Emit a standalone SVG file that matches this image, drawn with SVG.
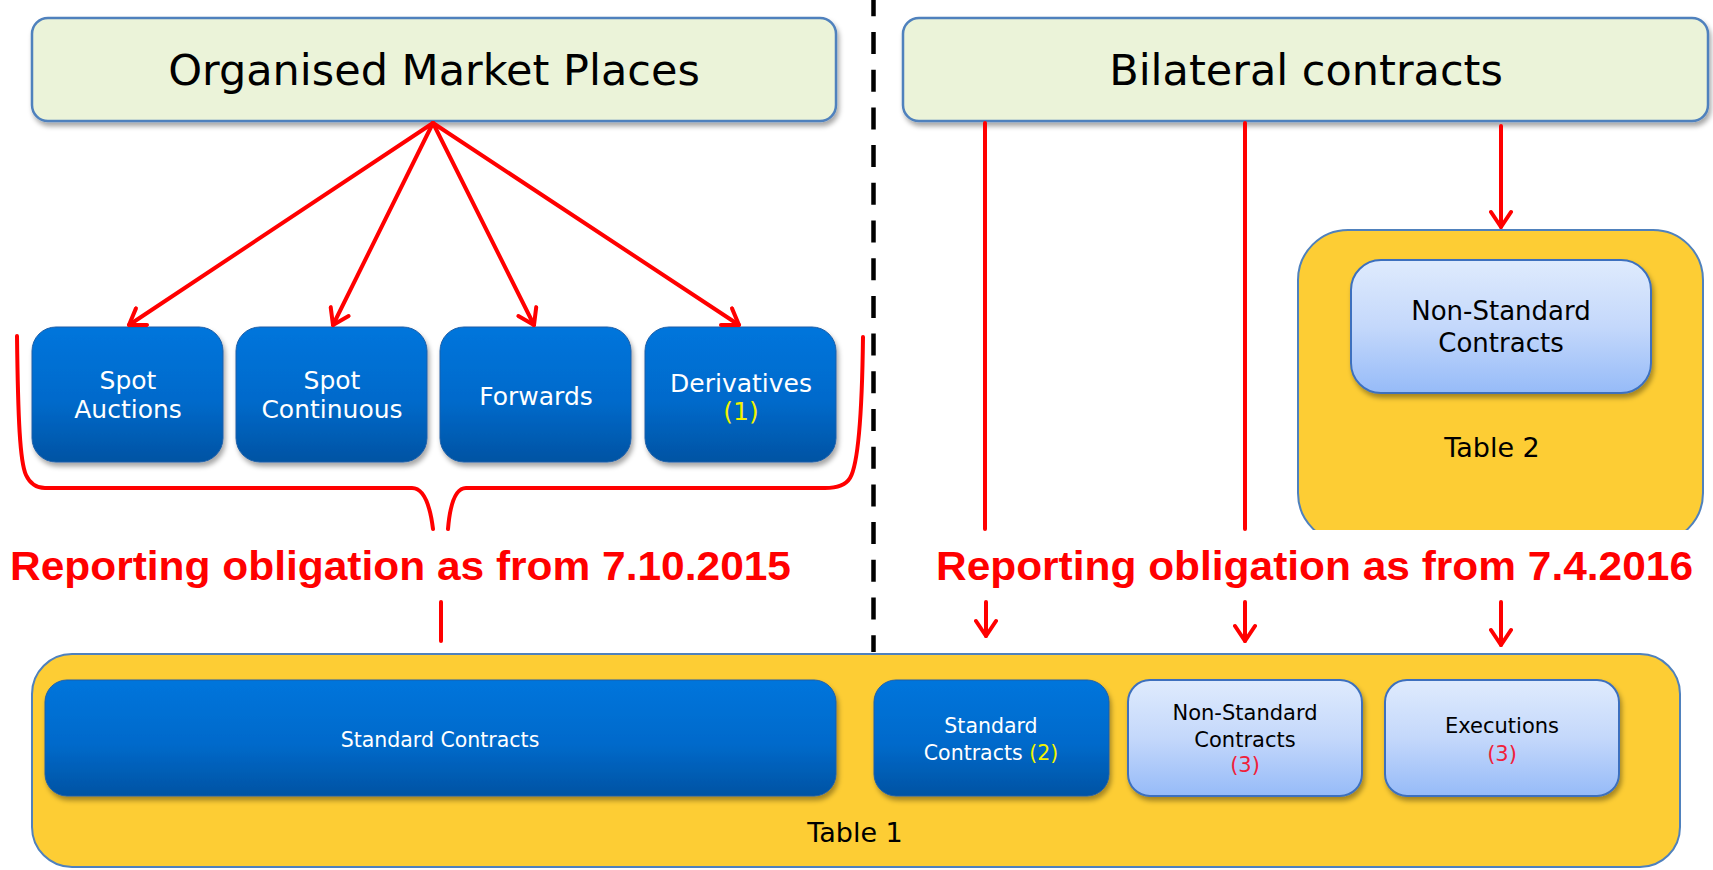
<svg xmlns="http://www.w3.org/2000/svg" width="1713" height="870" viewBox="0 0 1713 870">
  <style>
    .hdr { fill: #EBF3D9; stroke: #4F81BD; stroke-width: 2.5; }
    .tbl { fill: #FDCD34; stroke: #4F81BD; stroke-width: 2; }
    .blue { fill: url(#gBlue); stroke: #1F5FA8; stroke-width: 1; }
    .lblue { fill: url(#gLight); stroke: #3C70BE; stroke-width: 2; }
    .t { font-family: "DejaVu Sans", Verdana, sans-serif; text-anchor: middle; }
    .hdrT { font-size: 43px; fill: #000; }
    .wT { font-size: 25px; fill: #FFFFFF; }
    .wS { font-size: 20.5px; fill: #FFFFFF; }
    .kS { font-size: 21px; fill: #000; }
    .kM { font-size: 26px; fill: #000; }
    .tblT { font-size: 27px; fill: #000; }
    .yel { fill: #F2F200; }
    .redn { fill: #F0203A; }
    .rep { font-family: "Liberation Sans", Arial, sans-serif; font-weight: bold; font-size: 40px; fill: #FF0000; }
    .conn { fill: none; stroke: #FF0000; stroke-width: 4; stroke-linecap: round; }
    .arr { marker-end: url(#ah); }
  </style>
  <defs>
    <linearGradient id="gBlue" x1="0" y1="0" x2="0" y2="1">
      <stop offset="0" stop-color="#0075DC"/>
      <stop offset="0.55" stop-color="#006ACB"/>
      <stop offset="1" stop-color="#0053A3"/>
    </linearGradient>
    <linearGradient id="gLight" x1="0" y1="0" x2="0" y2="1">
      <stop offset="0" stop-color="#DFEBFD"/>
      <stop offset="0.5" stop-color="#C4D8FB"/>
      <stop offset="1" stop-color="#96BBF8"/>
    </linearGradient>
    <filter id="sh" x="-5%" y="-10%" width="112%" height="135%">
      <feDropShadow dx="2" dy="4" stdDeviation="2.5" flood-color="#000" flood-opacity="0.35"/>
    </filter>
    <marker id="ah" viewBox="-20 -12 24 24" refX="0" refY="0" markerWidth="24" markerHeight="24" markerUnits="userSpaceOnUse" orient="auto">
      <path d="M-15,-10 L0,0 L-15,10" fill="none" stroke="#FF0000" stroke-width="4" stroke-linecap="round" stroke-linejoin="round"/>
    </marker>
    <clipPath id="cutT2">
      <rect x="1280" y="200" width="433" height="330"/>
    </clipPath>
  </defs>

  <!-- Headers -->
  <g id="omp">
    <rect class="hdr" x="32" y="18" width="804" height="103" rx="16" filter="url(#sh)"/>
    <text class="t hdrT" x="434" y="85">Organised Market Places</text>
  </g>
  <g id="bilateral">
    <rect class="hdr" x="903" y="18" width="805" height="103" rx="16" filter="url(#sh)"/>
    <text class="t hdrT" x="1306" y="85">Bilateral contracts</text>
  </g>

  <!-- Market place products -->
  <g id="spot-auctions">
    <rect class="blue" x="32" y="327" width="191" height="135" rx="24" filter="url(#sh)"/>
    <text class="t wT" x="128" y="389">Spot</text>
    <text class="t wT" x="128" y="418">Auctions</text>
  </g>
  <g id="spot-continuous">
    <rect class="blue" x="236" y="327" width="191" height="135" rx="24" filter="url(#sh)"/>
    <text class="t wT" x="332" y="389">Spot</text>
    <text class="t wT" x="332" y="418">Continuous</text>
  </g>
  <g id="forwards">
    <rect class="blue" x="440" y="327" width="191" height="135" rx="24" filter="url(#sh)"/>
    <text class="t wT" x="536" y="405">Forwards</text>
  </g>
  <g id="derivatives">
    <rect class="blue" x="645" y="327" width="191" height="135" rx="24" filter="url(#sh)"/>
    <text class="t wT" x="741" y="392">Derivatives</text>
    <text class="t wT yel" x="741" y="420">(1)</text>
  </g>

  <!-- Table 2 -->
  <g id="table2">
    <rect class="tbl" x="1298" y="230" width="405" height="313" rx="50" clip-path="url(#cutT2)"/>
    <rect class="lblue" x="1351" y="260" width="300" height="133" rx="30" filter="url(#sh)"/>
    <text class="t kM" x="1501" y="320">Non-Standard</text>
    <text class="t kM" x="1501" y="352">Contracts</text>
    <text class="t tblT" x="1492" y="457">Table 2</text>
  </g>

  <!-- Table 1 -->
  <g id="table1">
    <rect class="tbl" x="32" y="654" width="1648" height="213" rx="40"/>
    <text class="t tblT" x="855" y="842">Table 1</text>
  </g>
  <g id="std-contracts-omp">
    <rect class="blue" x="45" y="680" width="791" height="116" rx="22" filter="url(#sh)"/>
    <text class="t wS" x="440" y="747">Standard Contracts</text>
  </g>
  <g id="std-contracts-bil">
    <rect class="blue" x="874" y="680" width="235" height="116" rx="22" filter="url(#sh)"/>
    <text class="t wS" x="991" y="733">Standard</text>
    <text class="t wS" x="991" y="760">Contracts <tspan class="yel">(2)</tspan></text>
  </g>
  <g id="nonstd-contracts">
    <rect class="lblue" x="1128" y="680" width="234" height="116" rx="22" filter="url(#sh)"/>
    <text class="t kS" x="1245" y="720">Non-Standard</text>
    <text class="t kS" x="1245" y="747">Contracts</text>
    <text class="t kS redn" x="1245" y="772">(3)</text>
  </g>
  <g id="executions">
    <rect class="lblue" x="1385" y="680" width="234" height="116" rx="22" filter="url(#sh)"/>
    <text class="t kS" x="1502" y="733">Executions</text>
    <text class="t kS redn" x="1502" y="761">(3)</text>
  </g>

  <!-- Divider -->
  <g id="divider">
    <line x1="873.5" y1="-5.7" x2="873.5" y2="652" stroke="#000" stroke-width="4.5" stroke-dasharray="22 15.7"/>
  </g>

  <!-- Labels -->
  <g id="labels">
    <text class="rep" x="10" y="580" textLength="781" lengthAdjust="spacingAndGlyphs">Reporting obligation as from 7.10.2015</text>
    <text class="rep" x="936" y="580" textLength="757" lengthAdjust="spacingAndGlyphs">Reporting obligation as from 7.4.2016</text>
  </g>

  <!-- Connectors -->
  <g id="connectors">
    <line class="conn arr" x1="433" y1="123" x2="129" y2="325"/>
    <line class="conn arr" x1="433" y1="123" x2="333" y2="325"/>
    <line class="conn arr" x1="433" y1="123" x2="534" y2="325"/>
    <line class="conn arr" x1="433" y1="123" x2="739" y2="325"/>
    <path class="conn" stroke-width="3.5" d="M17,336 C18,420 20,462 26,475 Q32,488 45,488 L412,488 C424,488 430,505 433,529"/>
    <path class="conn" stroke-width="3.5" d="M863,337 C862,420 858,465 850,478 Q844,488 825,488 L466,488 C455,488 450,505 448,529"/>
    <line class="conn" stroke-width="3.5" x1="441" y1="602" x2="441" y2="641"/>
    <line class="conn" x1="985" y1="123" x2="985" y2="529"/>
    <line class="conn" x1="1245" y1="123" x2="1245" y2="529"/>
    <line class="conn arr" x1="1501" y1="126" x2="1501" y2="227"/>
    <line class="conn arr" x1="986" y1="602" x2="986" y2="636"/>
    <line class="conn arr" x1="1245" y1="602" x2="1245" y2="641"/>
    <line class="conn arr" x1="1501" y1="602" x2="1501" y2="645"/>
  </g>
</svg>
